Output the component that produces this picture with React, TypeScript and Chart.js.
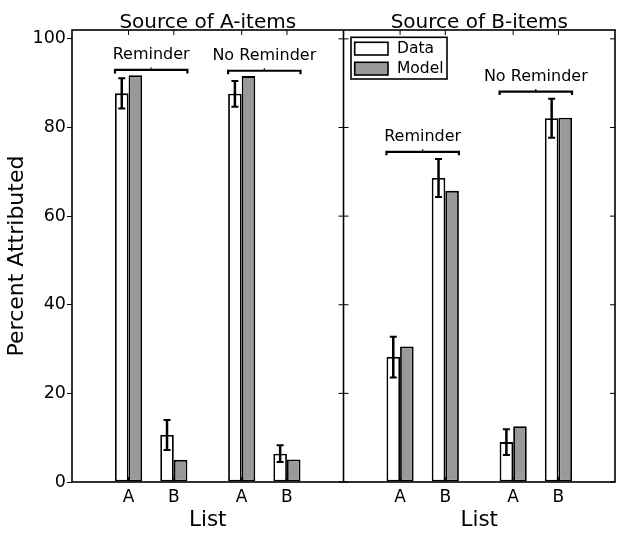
import { useEffect, useRef } from "react";
import { Chart, registerables } from "chart.js";

Chart.register(...registerables);

// ---------------- data ----------------
const panelTitles = ["Source of A-items", "Source of B-items"];
const listLabels = ["A", "B", "A", "B", "A", "B", "A", "B"];
const conditionLabels = ["Reminder", "No Reminder", "Reminder", "No Reminder"];
const seriesNames = ["Data", "Model"];
const dataValues = [87.7, 10.6, 87.6, 6.4, 28.2, 68.6, 9.0, 82.1];
const dataErrors = [3.4, 3.4, 2.9, 1.9, 4.6, 4.3, 2.9, 4.4];
const modelValues = [91.8, 5.0, 91.6, 5.1, 30.6, 65.7, 12.6, 82.2];
const bracketHeights = [93.0, 92.8, 74.5, 88.1];
const yTicks = [0, 20, 40, 60, 80, 100];
const yMax = 102;
const xAxisTitle = "List";
const yAxisTitle = "Percent Attributed";

// ---------------- slot layout (category axis with spacer slots) ----------------
const slotLabels: string[] = [];
const barSlots: number[] = [];
{
  let k = 0;
  for (let p = 0; p < panelTitles.length; p++) {
    for (let c = 0; c < 2; c++) {
      slotLabels.push("", "");
      slotLabels.push(listLabels[k]);
      barSlots.push(slotLabels.length - 1);
      k++;
      slotLabels.push("");
      slotLabels.push(listLabels[k]);
      barSlots.push(slotLabels.length - 1);
      k++;
    }
    slotLabels.push("", "");
  }
}
const toSlots = (vals: number[]) => {
  const arr: (number | null)[] = slotLabels.map(() => null);
  vals.forEach((v, i) => (arr[barSlots[i]] = v));
  return arr;
};

const FONT = "'DejaVu Sans', 'Liberation Sans', sans-serif";

const decorPlugin = {
  id: "decor",
  afterDatasetsDraw(chart: any) {
    const ctx = chart.ctx as CanvasRenderingContext2D;
    const y = chart.scales.y;
    const dataMeta = chart.getDatasetMeta(0);
    const modelMeta = chart.getDatasetMeta(1);
    ctx.save();
    ctx.strokeStyle = "#000";
    ctx.lineCap = "butt";
    // error bars
    ctx.lineWidth = 2.5;
    dataErrors.forEach((e, i) => {
      const el = dataMeta.data[barSlots[i]];
      if (!el) return;
      const x = el.x;
      const yt = y.getPixelForValue(dataValues[i] + e);
      const yb = y.getPixelForValue(dataValues[i] - e);
      ctx.beginPath();
      ctx.moveTo(x, yt);
      ctx.lineTo(x, yb);
      ctx.stroke();
      ctx.lineWidth = 2;
      ctx.beginPath();
      ctx.moveTo(x - 3.5, yt);
      ctx.lineTo(x + 3.5, yt);
      ctx.moveTo(x - 3.5, yb);
      ctx.lineTo(x + 3.5, yb);
      ctx.stroke();
      ctx.lineWidth = 2.5;
    });
    // brackets
    conditionLabels.forEach((lab, c) => {
      const a = dataMeta.data[barSlots[c * 2]];
      const b = modelMeta.data[barSlots[c * 2 + 1]];
      if (!a || !b) return;
      const x0 = a.x - a.width / 2;
      const x1 = b.x + b.width / 2;
      const by = y.getPixelForValue(bracketHeights[c]);
      const xm = (x0 + x1) / 2;
      ctx.lineWidth = 2.2;
      ctx.beginPath();
      ctx.moveTo(x0, by + 3.5);
      ctx.lineTo(x0, by);
      ctx.lineTo(x1, by);
      ctx.lineTo(x1, by + 3.5);
      ctx.stroke();
      ctx.lineWidth = 1.2;
      ctx.beginPath();
      ctx.moveTo(xm, by);
      ctx.lineTo(xm, by - 2.5);
      ctx.stroke();
      ctx.fillStyle = "#000";
      ctx.font = `16px ${FONT}`;
      ctx.textAlign = "center";
      ctx.textBaseline = "alphabetic";
      ctx.fillText(lab, xm, by - 10.5);
    });
    ctx.restore();
  },
  afterDraw(chart: any) {
    const ctx = chart.ctx as CanvasRenderingContext2D;
    const { left, right, top, bottom } = chart.chartArea;
    const x = chart.scales.x;
    const y = chart.scales.y;
    const half = slotLabels.length / 2;
    const divider = (x.getPixelForValue(half - 1) + x.getPixelForValue(half)) / 2;
    ctx.save();
    ctx.strokeStyle = "#000";
    ctx.lineWidth = 1.6;
    ctx.strokeRect(left, top, right - left, bottom - top);
    ctx.beginPath();
    ctx.moveTo(divider, top);
    ctx.lineTo(divider, bottom);
    ctx.stroke();
    // inner ticks
    ctx.lineWidth = 1;
    ctx.beginPath();
    yTicks.forEach((t) => {
      const py = y.getPixelForValue(t);
      ctx.moveTo(divider - 5, py);
      ctx.lineTo(divider + 5, py);
      ctx.moveTo(right - 5, py);
      ctx.lineTo(right, py);
    });
    barSlots.forEach((s) => {
      const px = x.getPixelForValue(s);
      ctx.moveTo(px, top);
      ctx.lineTo(px, top + 5);
      ctx.moveTo(px, bottom);
      ctx.lineTo(px, bottom - 5);
    });
    ctx.stroke();
    // titles and x labels
    const centers = [(left + divider) / 2, (divider + right) / 2];
    ctx.fillStyle = "#000";
    ctx.textAlign = "center";
    ctx.textBaseline = "alphabetic";
    centers.forEach((cx, p) => {
      ctx.font = `20px ${FONT}`;
      ctx.fillText(panelTitles[p], cx, top - 2);
      ctx.font = `21.5px ${FONT}`;
      ctx.fillText(xAxisTitle, cx, bottom + 44);
    });
    // legend
    const lx = divider + 7.5;
    const ly = top + 7.3;
    ctx.fillStyle = "#fff";
    ctx.fillRect(lx, ly, 96, 41.7);
    ctx.lineWidth = 1.6;
    ctx.strokeRect(lx, ly, 96, 41.7);
    chart.data.datasets.forEach((ds: any, i: number) => {
      const py = ly + 5 + i * 20;
      ctx.fillStyle = ds.backgroundColor;
      ctx.fillRect(lx + 3.7, py, 33.3, 12.7);
      ctx.strokeStyle = "#000";
      ctx.lineWidth = 1.6;
      ctx.strokeRect(lx + 3.7, py, 33.3, 12.7);
      ctx.fillStyle = "#000";
      ctx.font = `15.5px ${FONT}`;
      ctx.textAlign = "left";
      ctx.textBaseline = "middle";
      ctx.fillText(ds.label, lx + 46, py + 6.5);
    });
    ctx.restore();
  },
};

export default function App() {
  const ref = useRef<HTMLCanvasElement | null>(null);
  useEffect(() => {
    if (!ref.current) return;
    const chart = new Chart(ref.current, {
      type: "bar",
      data: {
        labels: slotLabels,
        datasets: [
          {
            label: seriesNames[0],
            data: toSlots(dataValues),
            backgroundColor: "#ffffff",
            borderColor: "#000000",
            borderWidth: 1.8,
            borderSkipped: false,
            categoryPercentage: 1.2,
            barPercentage: 1.0,
          },
          {
            label: seriesNames[1],
            data: toSlots(modelValues),
            backgroundColor: "#999999",
            borderColor: "#000000",
            borderWidth: 1.8,
            borderSkipped: false,
            categoryPercentage: 1.2,
            barPercentage: 1.0,
          },
        ],
      },
      options: {
        animation: false,
        responsive: false,
        devicePixelRatio: 1,
        layout: { padding: { top: 30, right: 9, left: 0, bottom: 0 } },
        plugins: { legend: { display: false }, tooltip: { enabled: false }, title: { display: false } },
        scales: {
          x: {
            type: "category",
            grid: { display: false },
            border: { display: false },
            ticks: {
              autoSkip: false,
              maxRotation: 0,
              minRotation: 0,
              padding: -3,
              color: "#000",
              font: { family: FONT, size: 17 },
            },
            afterFit: (s: any) => {
              s.height = 52;
            },
          },
          y: {
            min: 0,
            max: yMax,
            grid: { display: true, drawOnChartArea: false, drawTicks: true, tickLength: 5, color: "#000", lineWidth: 1 },
            border: { display: false },
            ticks: { padding: 1, color: "#000", font: { family: FONT, size: 17.5 } },
            title: {
              display: true,
              text: yAxisTitle,
              color: "#000",
              font: { family: FONT, size: 22 },
              padding: { top: 4, bottom: 4 },
            },
            afterBuildTicks: (s: any) => {
              s.ticks = yTicks.map((v) => ({ value: v }));
            },
            afterFit: (s: any) => {
              s.width = 72;
            },
          },
        },
      },
      plugins: [decorPlugin],
    });
    return () => chart.destroy();
  }, []);
  return (
    <div style={{ position: "fixed", left: 0, top: 0, width: 624, height: 534, background: "#fff" }}>
      <canvas ref={ref} width={624} height={534} style={{ width: 624, height: 534, display: "block" }} />
    </div>
  );
}
